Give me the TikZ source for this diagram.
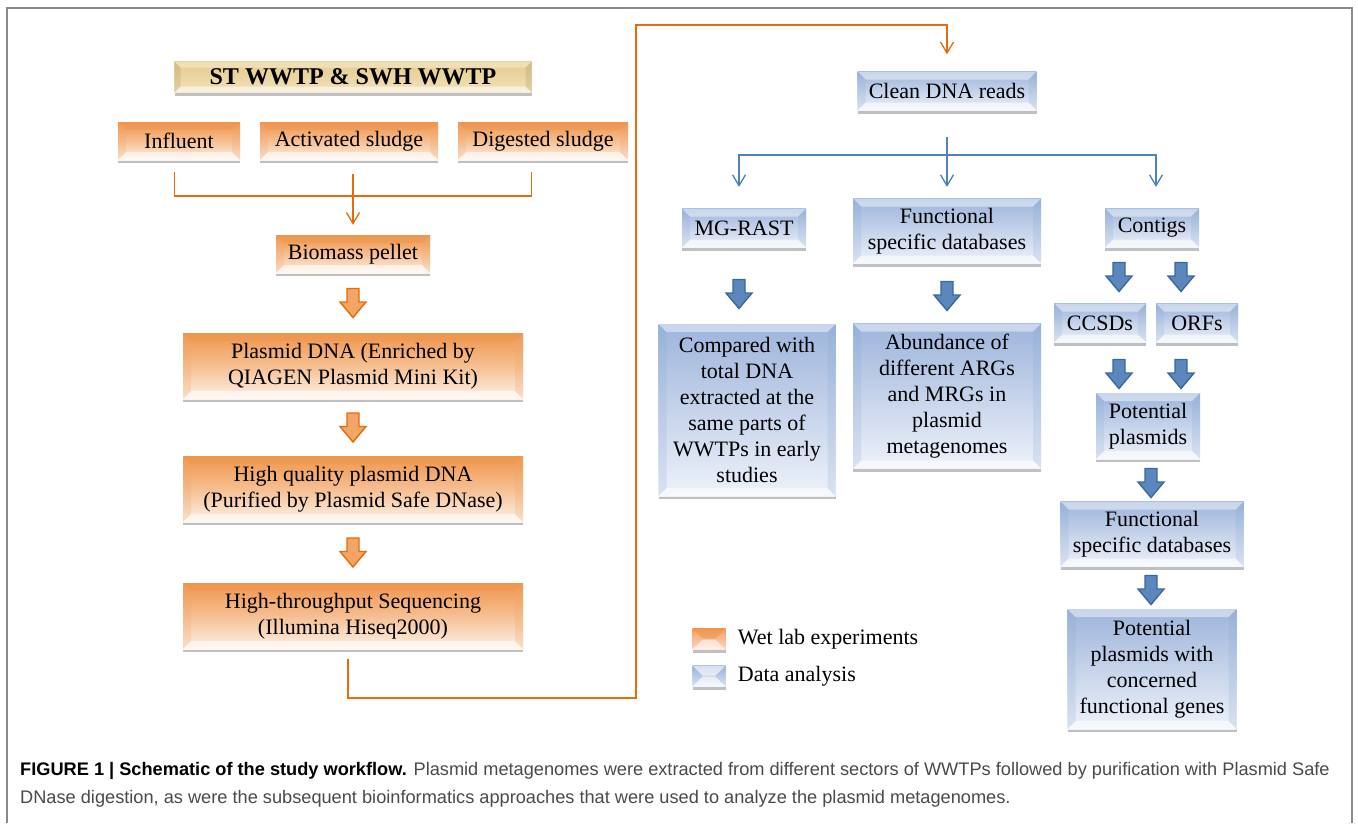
\documentclass[tikz,border=0pt]{standalone}
\usepackage{fontspec}
\setmainfont{Liberation Serif}
\setsansfont{Liberation Sans}
\usetikzlibrary{positioning,calc,shadows,arrows.meta}

\definecolor{wetorange}{HTML}{F0954A}
\definecolor{wetlight}{HTML}{FDF3EA}
\definecolor{wetline}{HTML}{E46C0A}
\definecolor{dryblue}{HTML}{9DB4DB}
\definecolor{drylight}{HTML}{EEF2FA}
\definecolor{dryline}{HTML}{4F81BD}
\definecolor{arrowblue}{HTML}{5B86BE}
\definecolor{arrowblueline}{HTML}{3C6898}
\definecolor{papyrus}{HTML}{E6CC90}
\definecolor{papyruslight}{HTML}{F3E3BC}
\definecolor{framegray}{HTML}{8A8A8A}
\definecolor{captiongray}{HTML}{4A4A4A}

% bevelled edge of a box: #1 width, #2 top band, #3 side bands
\tikzset{
  bevel/.style n args={3}{path picture={
      \path (path picture bounding box.south west) coordinate (bsw)
            (path picture bounding box.north east) coordinate (bne);
      \fill[#2] (bsw |- bne) -- (bne) -- ++(-#1,-#1) -- ($(bsw |- bne)+(#1,-#1)$) -- cycle;
      \fill[#3] (bsw) -- (bsw |- bne) -- ++(#1,-#1) -- ($(bsw)+(#1,#1)$) -- cycle;
      \fill[#3] (bne) -- (bne |- bsw) -- ++(-#1,#1) -- ($(bne)+(-#1,-#1)$) -- cycle;
      \fill[white,opacity=.55] (bsw) -- (bne |- bsw) -- ++(-#1,#1) -- ($(bsw)+(#1,#1)$) -- cycle;
  }},
  box/.style={inner sep=0pt, align=center, font=\fontsize{22}{26}\selectfont,
    drop shadow={shadow xshift=0pt, shadow yshift=-3pt, opacity=.35, fill=black!70}},
  wetbox/.style={box, top color=wetorange, bottom color=wetlight, middle color=wetorange!55!wetlight,
    bevel={8pt}{wetline!70,opacity=.55}{wetline!60,opacity=.25}},
  drybox/.style={box, top color=dryblue, bottom color=drylight,
    bevel={8pt}{white,opacity=.45}{dryline!70,opacity=.2}},
  titlebox/.style={box, top color=papyrus, bottom color=papyruslight, middle color=papyrus!60!papyruslight,
    font=\bfseries\fontsize{24}{28}\selectfont,
    bevel={6pt}{white,opacity=.35}{black,opacity=.08}},
  wetlink/.style={draw=wetline, line width=1.3pt, -{Straight Barb[length=11pt,width=13pt]}},
  drylink/.style={draw=dryline, line width=1.3pt, -{Straight Barb[length=11pt,width=13pt]}},
  wetarrow/.style={fill=wetorange!85!white, draw=wetline, line width=1.4pt, line join=miter},
  dryarrow/.style={fill=arrowblue, draw=arrowblueline, line width=1.4pt, line join=miter},
}

% fat arrow pointing down, #2 is its centre
\newcommand{\fatarrow}[2]{%
  \draw[#1] #2 ++(-6pt,14.5pt) -- ++(12pt,0pt) -- ++(0pt,-13.5pt) -- ++(7pt,0pt)
    -- ++(-13pt,-15.5pt) -- ++(-13pt,15.5pt) -- ++(7pt,0pt) -- cycle;}

\begin{document}
\begin{tikzpicture}[x=1pt, y=-1pt]
  % ==== CANVAS ====
  \useasboundingbox (0,0) rectangle (1358,823);
  \fill[white] (0,0) rectangle (1358,823);
  \draw[framegray, line width=1.5pt] (7,823) -- (7,8) -- (1352,8) -- (1352,823);

  % ==== WET LAB ====
  \node[titlebox, minimum width=357, minimum height=31] (site) at (353,77) {ST WWTP \& SWH WWTP};
  \node[wetbox, minimum width=122, minimum height=38] (influent) at (179,141) {Influent};
  \node[wetbox, minimum width=178, minimum height=38] (activated) at (349,141) {Activated sludge};
  \node[wetbox, minimum width=170, minimum height=38] (digested) at (543,141) {Digested sludge};
  \node[wetbox, minimum width=154, minimum height=38] (biomass) at (353,254) {Biomass pellet};
  \node[wetbox, minimum width=340, minimum height=66] (plasmid) at (353,366)
    {Plasmid DNA (Enriched by\\QIAGEN Plasmid Mini Kit)};
  \node[wetbox, minimum width=340, minimum height=66] (purified) at (353,489)
    {High quality plasmid DNA\\(Purified by Plasmid Safe DNase)};
  \node[wetbox, minimum width=340, minimum height=66] (sequencing) at (353,616)
    {High-throughput Sequencing\\(Illumina Hiseq2000)};

  % samples merge into the pellet
  \coordinate (merge) at (353,196);
  \draw[wetline, line width=1.3pt] (site.west |- 0,172) -- (site.west |- merge) -- (site.east |- merge) -- (site.east |- 0,172);
  \draw[wetlink] (biomass.north |- 0,174) -- ([yshift=10pt]biomass.north);

  \fatarrow{wetarrow}{($(biomass.south)!.5!(plasmid.north)$)}
  \fatarrow{wetarrow}{($(plasmid.south)!.5!(purified.north)$)}
  \fatarrow{wetarrow}{($(purified.south)!.5!(sequencing.north)$)}

  % ==== DATA ANALYSIS ====
  \node[drybox, minimum width=179, minimum height=39] (clean) at (947,91) {Clean DNA reads};
  \node[drybox, minimum width=124, minimum height=39] (mgrast) at (744,228) {MG-RAST};
  \node[drybox, minimum width=188, minimum height=65] (funcdb) at (947,231) {Functional\\specific databases};
  \node[drybox, minimum width=94, minimum height=39] (contigs) at (1152,228) {Contigs};
  \node[drybox, minimum width=177, minimum height=172] (compared) at (747,410)
    {Compared with\\total DNA\\extracted at the\\same parts of\\WWTPs in early\\studies};
  \node[drybox, minimum width=188, minimum height=145] (abundance) at (947,396)
    {Abundance of\\different ARGs\\and MRGs in\\plasmid\\metagenomes};
  \node[drybox, minimum width=92, minimum height=39] (ccsds) at (1100,323) {CCSDs};
  \node[drybox, minimum width=82, minimum height=39] (orfs) at (1197,323) {ORFs};
  \node[drybox, minimum width=104, minimum height=66] (potential) at (1148,426) {Potential\\plasmids};
  \node[drybox, minimum width=183, minimum height=65] (funcdb2) at (1152,534) {Functional\\specific databases};
  \node[drybox, minimum width=169, minimum height=120] (genes) at (1152,669)
    {Potential\\plasmids with\\concerned\\functional genes};

  % sequencing output goes to the reads
  \draw[wetlink] ([yshift=-10pt]sequencing.south -| 348,0) -- (348,698) -- (636,698) -- (636,25)
    -- (clean.north |- 0,25) -- ([yshift=17pt]clean.north);

  % reads split three ways
  \coordinate (split) at (clean.south |- 0,155);
  \draw[dryline, line width=1.3pt] (clean.south |- 0,137) -- (split);
  \draw[drylink] (split) -- (split |- 0,187);
  \draw[drylink] (split) -- (739,155) -- (739,187);
  \draw[drylink] (split) -- (1156,155) -- (1156,187);

  \fatarrow{dryarrow}{(739,294)}
  \fatarrow{dryarrow}{(funcdb.south |- 0,296)}
  \fatarrow{dryarrow}{(1119,277)}
  \fatarrow{dryarrow}{(1181,277)}
  \fatarrow{dryarrow}{(1119,374)}
  \fatarrow{dryarrow}{(1181,374)}
  \fatarrow{dryarrow}{(1151,483)}
  \fatarrow{dryarrow}{(1151,590)}

  % ==== LEGEND ====
  \node[wetbox, top color=wetorange, bottom color=wetlight!60!pink, minimum width=33, minimum height=21,
    bevel={10pt}{wetline!70,opacity=.5}{wetline!40,opacity=.3}] (wetkey) at (709,639) {};
  \node[drybox, minimum width=33, minimum height=21,
    bevel={10pt}{white,opacity=.6}{dryline!60,opacity=.25}] (drykey) at (709,676) {};
  \node[right=12pt of wetkey, font=\fontsize{22}{26}\selectfont, inner sep=0pt] (wetlabel) {Wet lab experiments};
  \node[right=12pt of drykey, font=\fontsize{22}{26}\selectfont, inner sep=0pt] (drylabel) {Data analysis};

  % ==== CAPTION ====
  \node[anchor=north west, align=left, inner sep=0pt, text=captiongray,
    font=\sffamily\fontsize{18.2}{28.5}\selectfont] (caption) at (20,762)
    {{\color{black}\bfseries FIGURE 1 \textbar\ Schematic of the study workflow.} Plasmid metagenomes were extracted from different sectors of WWTPs followed by purification with Plasmid Safe\\
     DNase digestion, as were the subsequent bioinformatics approaches that were used to analyze the plasmid metagenomes.};
\end{tikzpicture}
\end{document}
